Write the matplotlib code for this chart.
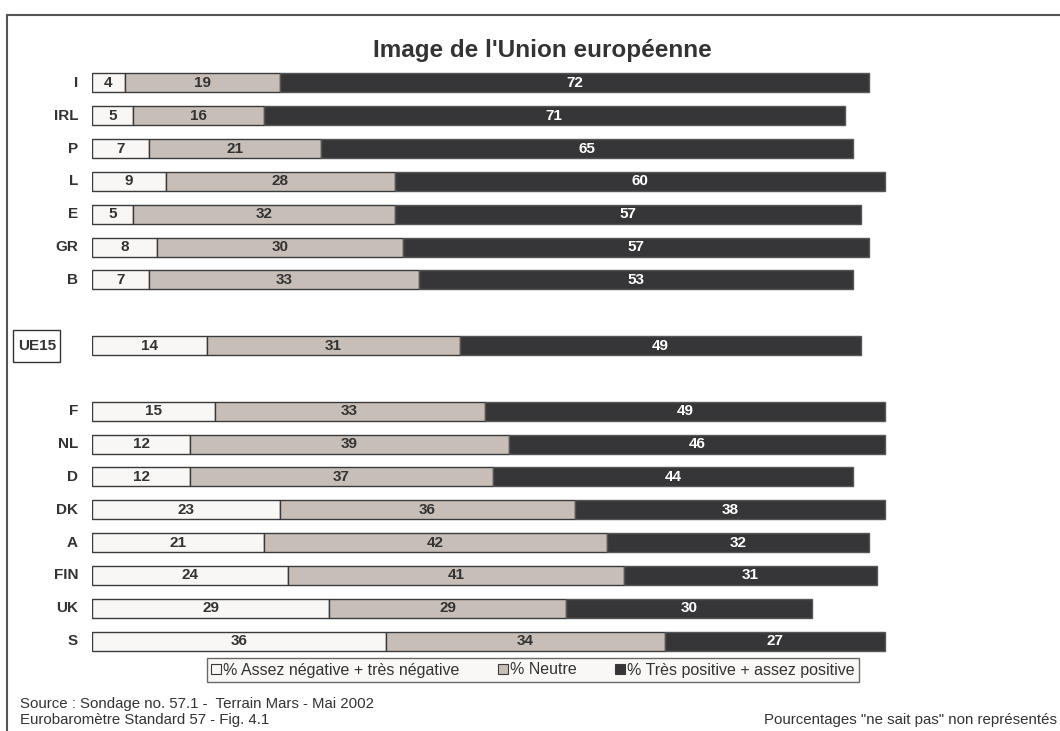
import matplotlib.pyplot as plt
from matplotlib.patches import Patch, Rectangle
from matplotlib.lines import Line2D

plt.rcParams['font.family'] = ['Liberation Sans', 'DejaVu Sans']

# donnees
pays = ['I', 'IRL', 'P', 'L', 'E', 'GR', 'B', 'UE15',
        'F', 'NL', 'D', 'DK', 'A', 'FIN', 'UK', 'S']
negative = [4, 5, 7, 9, 5, 8, 7, 14, 15, 12, 12, 23, 21, 24, 29, 36]
neutre = [19, 16, 21, 28, 32, 30, 33, 31, 33, 39, 37, 36, 42, 41, 29, 34]
positive = [72, 71, 65, 60, 57, 57, 53, 49, 49, 46, 44, 38, 32, 31, 30, 27]
# position des lignes (trous autour de UE15)
rangs = [0, 1, 2, 3, 4, 5, 6, 8, 10, 11, 12, 13, 14, 15, 16, 17]

c_neg = '#f8f7f5'
c_neu = '#c8beb8'
c_pos = '#363638'
bord = '#3a3a3a'

fig = plt.figure(figsize=(10.6, 7.31), dpi=100)
ax = fig.add_axes([92 / 1060, 1 - 664 / 731, 908 / 1060, 604 / 731])

h = 0.58
ax.barh(rangs, negative, height=h, color=c_neg, edgecolor=bord, linewidth=1)
ax.barh(rangs, neutre, left=negative, height=h, color=c_neu, edgecolor=bord, linewidth=1)
left3 = [a + b for a, b in zip(negative, neutre)]
ax.barh(rangs, positive, left=left3, height=h, color=c_pos, edgecolor='#555555', linewidth=1)

for r, a, b, c in zip(rangs, negative, neutre, positive):
    ax.text(a / 2, r, str(a), ha='center', va='center', fontsize=11,
            fontweight='bold', color='#333333')
    ax.text(a + b / 2, r, str(b), ha='center', va='center', fontsize=11,
            fontweight='bold', color='#333333')
    ax.text(a + b + c / 2, r, str(c), ha='center', va='center', fontsize=11,
            fontweight='bold', color='white')

for r, p in zip(rangs, pays):
    if p == 'UE15':
        # cadre autour du libelle UE15
        ax.add_patch(Rectangle((-9.65, r - 0.49), 5.75, 0.98, fc='white', ec='#333333',
                               lw=1, clip_on=False))
        ax.text(-6.75, r, p, ha='center', va='center', fontsize=11, fontweight='bold',
                color='#333333')
    else:
        ax.text(-1.7, r, p, ha='right', va='center', fontsize=11, fontweight='bold',
                color='#333333')

ax.set_xlim(0, 111)
ax.set_ylim(17.7, -0.7)
ax.axis('off')

fig.text(542 / 1060, 1 - 50 / 731, "Image de l'Union européenne", ha='center',
         va='center', fontsize=17.5, fontweight='bold', color='#333333')

handles = [Patch(facecolor=c_neg, edgecolor=bord, lw=0.8),
           Patch(facecolor=c_neu, edgecolor=bord, lw=0.8),
           Patch(facecolor=c_pos, edgecolor=bord, lw=0.8)]
labels = ['% Assez négative + très négative', '% Neutre', '% Très positive + assez positive']
leg = fig.legend(handles, labels, ncol=3, loc='center', bbox_to_anchor=(533 / 1060, 1 - 670 / 731),
                 fontsize=11.5, frameon=True, fancybox=False, handlelength=0.6, handleheight=0.6,
                 handletextpad=0.15, columnspacing=2.4, borderpad=0.3, borderaxespad=0)
leg.get_frame().set_edgecolor('#444444')
leg.get_frame().set_facecolor('#f8f7f5')
for t in leg.get_texts():
    t.set_color('#333333')

fig.text(20 / 1060, 1 - 704 / 731, 'Source : Sondage no. 57.1 -  Terrain Mars - Mai 2002',
         ha='left', va='center', fontsize=10.8, color='#333333')
fig.text(20 / 1060, 1 - 720 / 731, 'Eurobaromètre Standard 57 - Fig. 4.1',
         ha='left', va='center', fontsize=10.8, color='#333333')
fig.text(1057 / 1060, 1 - 720 / 731, 'Pourcentages "ne sait pas" non représentés',
         ha='right', va='center', fontsize=10.8, color='#333333')

# cadre
fig.add_artist(Line2D([7 / 1060, 7 / 1060], [0, 1 - 15 / 731], color='#555555', lw=1.5))
fig.add_artist(Line2D([7 / 1060, 1], [1 - 15 / 731, 1 - 15 / 731], color='#555555', lw=1.5))

fig.savefig('out.png', dpi=100, facecolor='white')
